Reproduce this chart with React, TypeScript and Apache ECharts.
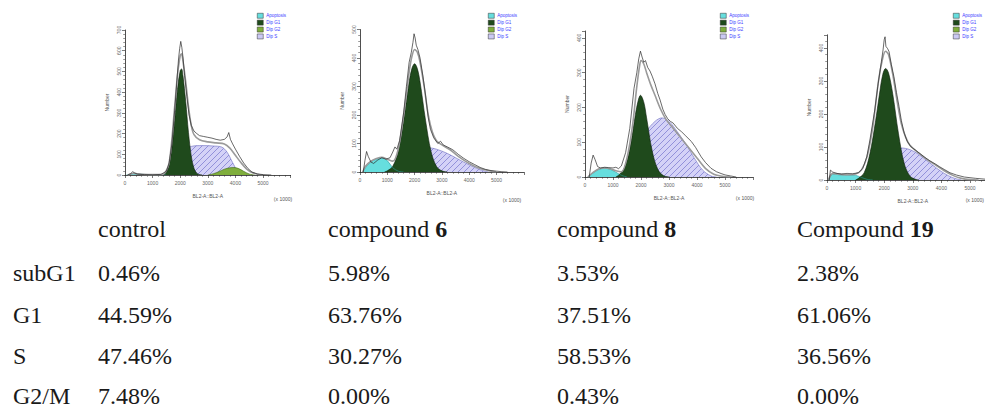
import React, { useEffect, useRef } from 'react';
import * as echarts from 'echarts';

// ---------- data ----------
const xTickLabels = ['0', '1000', '2000', '3000', '4000', '5000'];
const legendNames = ['Apoptosis', 'Dip G1', 'Dip G2', 'Dip S'];
const yMaxes = [700, 500, 420, 440];

// control
const ctrlApo = [[0.05,0],[0.2,4],[0.35,8],[0.5,5],[0.8,2],[1.2,1],[1.5,0]];
const ctrlG1 = [[1.4,3],[1.5,15],[1.6,50],[1.7,131],[1.8,263],[1.9,413],[2.0,504],[2.05,512],[2.1,480],[2.2,355],[2.3,205],[2.4,92],[2.5,32],[2.6,9],[2.7,2],[2.8,0]];
const ctrlS = [[1.8,0],[2.0,60],[2.2,120],[2.4,138],[2.8,142],[3.2,140],[3.5,135],[3.7,110],[3.9,60],[4.1,15],[4.3,0]];
const ctrlG2 = [[3.0,0],[3.2,6],[3.4,16],[3.6,28],[3.8,35],[3.95,36],[4.1,32],[4.3,18],[4.5,5],[4.7,0]];
const ctrlFit = [[0.1,0],[0.3,8],[0.6,3],[1.2,2],[1.4,5],[1.6,60],[1.8,330],[1.9,480],[2.0,575],[2.05,585],[2.1,550],[2.2,450],[2.3,330],[2.4,240],[2.5,195],[2.7,170],[3.0,160],[3.3,155],[3.6,150],[3.8,130],[4.0,95],[4.2,60],[4.4,30],[4.6,12],[4.8,4],[5.0,0]];
const ctrlData = [[0.1,0],[0.2,6],[0.28,16],[0.35,10],[0.45,4],[0.7,2],[1.0,1],[1.3,3],[1.5,18],[1.6,58],[1.7,150],[1.8,310],[1.88,455],[1.94,560],[1.98,610],[2.02,645],[2.06,615],[2.1,570],[2.16,480],[2.24,380],[2.32,290],[2.4,240],[2.5,212],[2.6,200],[2.7,190],[2.85,186],[3.0,182],[3.15,178],[3.3,172],[3.45,168],[3.6,172],[3.7,184],[3.76,205],[3.82,172],[3.9,150],[4.0,125],[4.15,90],[4.3,58],[4.45,32],[4.6,14],[4.8,5],[5.0,2],[5.3,0]];

// compound 6
const c6Apo = [[0.1,0],[0.2,15],[0.4,35],[0.6,45],[0.8,50],[1.0,40],[1.2,15],[1.4,3],[1.6,0]];
const c6G1 = [[0.9,0],[1.0,4],[1.2,20],[1.4,73],[1.6,182],[1.8,316],[1.9,363],[2.0,380],[2.1,363],[2.2,316],[2.4,182],[2.6,73],[2.8,20],[3.0,4],[3.2,0]];
const c6S = [[1.6,0],[1.9,40],[2.2,75],[2.5,85],[2.8,80],[3.2,65],[3.6,45],[4.0,25],[4.4,8],[4.7,0]];
const c6Fit = [[0.1,0],[0.2,20],[0.4,38],[0.6,47],[0.8,52],[1.0,45],[1.2,38],[1.4,80],[1.6,200],[1.8,350],[1.9,405],[2.0,430],[2.1,420],[2.2,385],[2.35,300],[2.5,200],[2.65,140],[2.8,110],[3.0,95],[3.3,78],[3.6,55],[4.0,30],[4.4,12],[4.8,3],[5.0,0]];
const c6Data = [[0.12,0],[0.18,40],[0.24,72],[0.3,55],[0.4,35],[0.5,30],[0.65,42],[0.8,50],[0.95,45],[1.1,50],[1.2,70],[1.28,88],[1.35,80],[1.45,110],[1.6,210],[1.7,300],[1.8,385],[1.88,420],[1.94,455],[1.98,485],[2.02,470],[2.06,445],[2.12,430],[2.2,400],[2.3,340],[2.4,270],[2.5,190],[2.58,150],[2.7,120],[2.85,100],[2.95,108],[3.05,95],[3.2,88],[3.4,78],[3.6,62],[3.8,48],[4.0,36],[4.2,26],[4.4,16],[4.6,9],[4.8,5],[5.0,3],[5.2,1],[5.4,0]];

// compound 8
const c8Apo = [[0.1,0],[0.3,12],[0.5,22],[0.7,25],[0.9,22],[1.1,14],[1.3,5],[1.5,0]];
const c8G1 = [[1.1,0],[1.2,5],[1.4,25],[1.6,80],[1.8,180],[1.9,220],[1.98,235],[2.1,215],[2.2,170],[2.4,75],[2.6,22],[2.8,4],[3.0,0]];
const c8S = [[1.6,0],[1.9,60],[2.2,130],[2.5,160],[2.75,170],[3.0,160],[3.3,130],[3.6,95],[3.9,55],[4.2,20],[4.5,3],[4.7,0]];
const c8Fit = [[0.1,0],[0.3,14],[0.5,24],[0.7,26],[0.9,24],[1.1,18],[1.3,15],[1.5,55],[1.7,150],[1.85,260],[1.95,320],[2.0,335],[2.1,325],[2.2,300],[2.35,265],[2.5,235],[2.7,195],[2.9,165],[3.1,145],[3.4,115],[3.7,85],[4.0,55],[4.3,25],[4.6,8],[4.9,2],[5.2,0]];
const c8Data = [[0.15,0],[0.22,40],[0.29,63],[0.36,50],[0.45,30],[0.55,26],[0.7,28],[0.85,27],[1.0,26],[1.1,28],[1.2,24],[1.3,32],[1.45,70],[1.6,140],[1.75,255],[1.85,300],[1.92,340],[1.98,362],[2.04,345],[2.1,330],[2.16,335],[2.24,315],[2.32,305],[2.4,290],[2.5,268],[2.6,240],[2.68,222],[2.78,195],[2.86,180],[2.95,168],[3.05,160],[3.15,155],[3.3,140],[3.45,130],[3.6,118],[3.8,102],[3.95,85],[4.15,58],[4.3,42],[4.5,25],[4.7,15],[4.86,10],[5.0,6],[5.2,3],[5.4,0]];

// compound 19
const c19Apo = [[0.05,0],[0.2,18],[0.4,16],[0.6,14],[0.8,15],[1.0,14],[1.2,8],[1.4,2],[1.6,0]];
const c19G1 = [[1.0,0],[1.1,5],[1.3,22],[1.5,80],[1.7,180],[1.85,270],[1.95,320],[2.05,338],[2.15,325],[2.3,260],[2.5,140],[2.7,50],[2.9,12],[3.1,2],[3.2,0]];
const c19S = [[1.7,0],[2.0,50],[2.3,85],[2.6,97],[2.9,92],[3.2,78],[3.5,58],[3.8,38],[4.1,20],[4.4,7],[4.7,0]];
const c19Fit = [[0.05,0],[0.2,20],[0.5,17],[0.8,16],[1.0,18],[1.2,30],[1.4,70],[1.6,160],[1.8,300],[1.95,370],[2.05,390],[2.15,380],[2.3,320],[2.45,240],[2.6,170],[2.75,130],[2.9,105],[3.2,82],[3.5,62],[3.8,45],[4.1,28],[4.4,14],[4.7,5],[5.0,1],[5.3,0]];
const c19Data = [[0.08,0],[0.12,30],[0.2,24],[0.35,20],[0.5,18],[0.7,20],[0.9,19],[1.1,22],[1.25,35],[1.39,70],[1.5,121],[1.67,212],[1.79,293],[1.9,358],[1.96,394],[2.0,425],[2.03,434],[2.06,405],[2.12,398],[2.17,389],[2.25,350],[2.34,313],[2.43,265],[2.52,222],[2.6,180],[2.7,142],[2.8,118],[2.93,101],[3.1,90],[3.25,80],[3.4,70],[3.6,58],[3.8,48],[3.94,40],[4.1,32],[4.3,22],[4.53,15],[4.8,9],[5.2,5],[5.6,2],[6.0,0]];

// table
const rowLabels = ['subG1', 'G1', 'S', 'G2/M'];
const headerPrefix = ['control', 'compound ', 'compound ', 'Compound '];
const headerNum = ['', '6', '8', '19'];
const controlPct = [0.46, 44.59, 47.46, 7.48];
const c6Pct = [5.98, 63.76, 30.27, 0.0];
const c8Pct = [3.53, 37.51, 58.53, 0.43];
const c19Pct = [2.38, 61.06, 36.56, 0.0];

// ---------- layout ----------
const grids = [
  { left: 125, top: 30, width: 165.6, height: 145 },
  { left: 360, top: 29.5, width: 163.8, height: 142.5 },
  { left: 585, top: 31, width: 168, height: 146 },
  { left: 827, top: 34.8, width: 171.6, height: 145.2 },
];
const legendPos = [[257, 13], [488, 13], [720, 13], [953, 13]];
const unitPos: [number, number, string][] = [[283, 199, 'center'], [512, 200, 'center'], [745, 198, 'center'], [984, 200, 'right']];
const colX = [98, 328, 557, 797];
const headerY = 229;
const rowY = [273, 315, 356, 396];

const COLORS = {
  apo: '#66dede',
  apoLine: '#2a9a9a',
  g1: '#1f4a1c',
  g1Line: '#0c1f0b',
  g2: '#7fae3c',
  g2Line: '#3f6a1a',
  s: '#cbc9f4',
  sLine: '#6c6cc0',
};

function makeHatch(): HTMLCanvasElement {
  const c = document.createElement('canvas');
  c.width = 6;
  c.height = 6;
  const ctx = c.getContext('2d')!;
  ctx.fillStyle = '#d4d2f7';
  ctx.fillRect(0, 0, 6, 6);
  ctx.strokeStyle = '#8a88d6';
  ctx.lineWidth = 0.9;
  ctx.beginPath();
  ctx.moveTo(0, 6); ctx.lineTo(6, 0);
  ctx.moveTo(-1, 1); ctx.lineTo(1, -1);
  ctx.moveTo(5, 7); ctx.lineTo(7, 5);
  ctx.stroke();
  return c;
}

export default function App() {
  const ref = useRef<HTMLDivElement>(null);
  useEffect(() => {
    if (!ref.current) return;
    const chart = echarts.init(ref.current, undefined, { renderer: 'svg' });
    const hatch = makeHatch();

    const panels = [
      { apo: ctrlApo, g1: ctrlG1, s: ctrlS, g2: ctrlG2, fit: ctrlFit, data: ctrlData },
      { apo: c6Apo, g1: c6G1, s: c6S, g2: null, fit: c6Fit, data: c6Data },
      { apo: c8Apo, g1: c8G1, s: c8S, g2: null, fit: c8Fit, data: c8Data },
      { apo: c19Apo, g1: c19G1, s: c19S, g2: null, fit: c19Fit, data: c19Data },
    ];

    const series: any[] = [];
    const comp = (name: string, data: any, i: number, color: any, solid: string, line: string, z: number) => ({
      type: 'line', name, data, xAxisIndex: i, yAxisIndex: i, smooth: 0.35, symbol: 'none', silent: true,
      lineStyle: { color: line, width: 0.6 }, itemStyle: { color: solid },
      areaStyle: { color, opacity: 1 }, z,
    });
    panels.forEach((p, i) => {
      series.push(comp('Dip S', p.s, i, { image: hatch, repeat: 'repeat' }, COLORS.s, COLORS.sLine, 2));
      series.push(comp('Apoptosis', p.apo, i, COLORS.apo, COLORS.apo, COLORS.apoLine, 3));
      series.push(comp('Dip G1', p.g1, i, COLORS.g1, COLORS.g1, COLORS.g1Line, 3));
      if (p.g2) series.push(comp('Dip G2', p.g2, i, COLORS.g2, COLORS.g2, COLORS.g2Line, 3));
      series.push({
        type: 'line', name: 'Fit', data: p.fit, xAxisIndex: i, yAxisIndex: i, smooth: 0.3, symbol: 'none', silent: true,
        lineStyle: { color: '#9a9a9a', width: 1.6 }, z: 4,
      });
      series.push({
        type: 'line', name: 'Data', data: p.data, xAxisIndex: i, yAxisIndex: i, smooth: false, symbol: 'none', silent: true,
        lineStyle: { color: '#2a2a2a', width: 0.7 }, z: 5,
      });
    });

    const axisCommon = {
      axisLine: { lineStyle: { color: '#222', width: 0.8 } },
      axisTick: { length: 3, lineStyle: { color: '#222', width: 0.6 } },
      minorTick: { show: true, splitNumber: 5, length: 1.8, lineStyle: { color: '#333', width: 0.5 } },
      splitLine: { show: false },
      nameTextStyle: { fontSize: 5, color: '#555', fontFamily: 'Liberation Sans' },
    };

    const xAxis = grids.map((_, i) => ({
      ...axisCommon, gridIndex: i, type: 'value', min: 0, max: 6, interval: 1,
      name: 'BL2-A::BL2-A', nameLocation: 'middle', nameGap: 18,
      axisLabel: {
        fontSize: 5, color: '#666', margin: 5, fontFamily: 'Liberation Sans',
        formatter: (v: number) => xTickLabels[Math.round(v)] ?? '',
      },
    }));
    const yAxis = grids.map((_, i) => ({
      ...axisCommon, gridIndex: i, type: 'value', min: 0, max: yMaxes[i], interval: 100,
      name: 'Number', nameLocation: 'middle', nameGap: 16,
      axisLabel: { fontSize: 5, color: '#666', margin: 4, rotate: 90, fontFamily: 'Liberation Sans', showMaxLabel: yMaxes[i] % 100 === 0 },
    }));

    const legend = legendPos.map(([l, t]) => ({
      left: l, top: t, orient: 'vertical', itemWidth: 6, itemHeight: 5, itemGap: 1.4, selectedMode: false,
      padding: 0,
      textStyle: { fontSize: 4.5, color: '#3a3aff', fontFamily: 'Liberation Sans', padding: [0, 0, 0, -2] },
      itemStyle: { borderColor: '#333', borderWidth: 0.5 },
      data: legendNames.map((n) => ({ name: n, icon: 'rect' })),
    }));

    const graphic: any[] = [];
    unitPos.forEach(([x, y, align]) => {
      graphic.push({ type: 'text', x, y, style: { text: '(x 1000)', fontSize: 5, fill: '#555', align, verticalAlign: 'middle', fontFamily: 'Liberation Sans' } });
    });
    const tFont = { fontSize: 24, fontFamily: 'Liberation Serif', fill: '#1a1a1a' };
    headerPrefix.forEach((p, i) => {
      graphic.push({
        type: 'text', x: colX[i], y: headerY,
        style: {
          text: headerNum[i] ? `{n|${p}}{b|${headerNum[i]}}` : `{n|${p}}`,
          rich: { n: { ...tFont }, b: { ...tFont, fontWeight: 'bold' } },
          ...tFont, verticalAlign: 'middle',
        },
      });
    });
    rowLabels.forEach((r, j) => {
      graphic.push({ type: 'text', x: 13, y: rowY[j], style: { text: r, ...tFont, verticalAlign: 'middle' } });
    });
    [controlPct, c6Pct, c8Pct, c19Pct].forEach((arr, i) => {
      arr.forEach((v, j) => {
        graphic.push({ type: 'text', x: colX[i], y: rowY[j], style: { text: v.toFixed(2) + '%', ...tFont, verticalAlign: 'middle' } });
      });
    });

    chart.setOption({
      animation: false,
      backgroundColor: '#ffffff',
      grid: grids.map((g) => ({ ...g, containLabel: false, outerBoundsMode: 'none' })),
      xAxis, yAxis, legend, series, graphic,
    });
    return () => chart.dispose();
  }, []);
  return <div ref={ref} style={{ position: 'fixed', left: 0, top: 0, width: 985, height: 408 }} />;
}
